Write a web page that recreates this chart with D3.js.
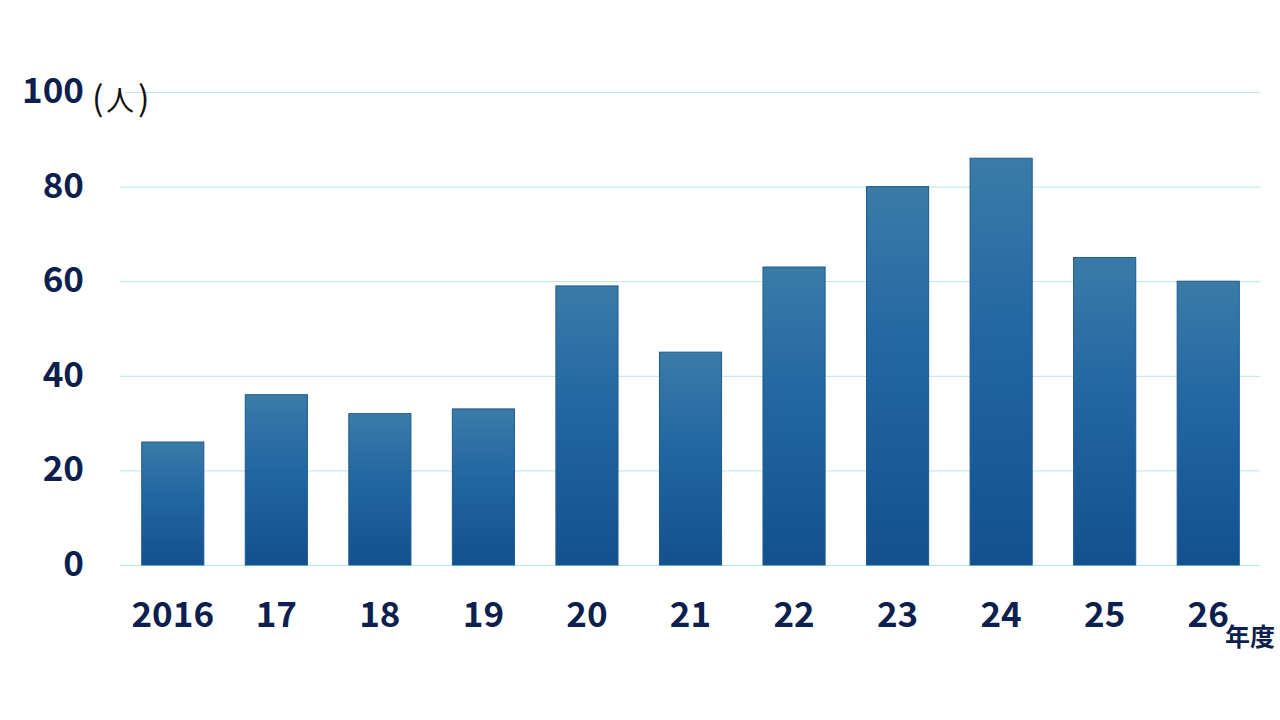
<!DOCTYPE html>
<html>
<head>
<meta charset="utf-8">
<script src="https://cdn.jsdelivr.net/npm/d3@7"></script>
<style>
  html, body { margin: 0; padding: 0; background: #fff; }
</style>
</head>
<body>
<div id="chart"></div>
<script>
const years = ["2016", "17", "18", "19", "20", "21", "22", "23", "24", "25", "26"];
const people = [26, 36, 32, 33, 59, 45, 63, 80, 86, 65, 60];
const yTicks = [0, 20, 40, 60, 80, 100];

const width = 1280;
const height = 720;
const margin = { top: 92, right: 20, bottom: 155, left: 121 };

const x = d3.scaleBand()
  .domain(years)
  .range([margin.left, width - margin.right])
  .paddingInner(0.4)
  .paddingOuter(0.2);

const y = d3.scaleLinear()
  .domain([0, 100])
  .range([height - margin.bottom, margin.top]);

const svg = d3.select("#chart")
  .append("svg")
    .attr("width", width)
    .attr("height", height)
    .attr("viewBox", [0, 0, width, height])
    .style("font-family", "'Noto Sans CJK JP', 'Noto Sans', sans-serif");

const defs = svg.append("defs");
const grad = defs.append("linearGradient")
  .attr("id", "barGrad")
  .attr("x1", 0).attr("y1", 0)
  .attr("x2", 0).attr("y2", 1);
grad.append("stop").attr("offset", "0%").attr("stop-color", "#3a7ba7");
grad.append("stop").attr("offset", "45%").attr("stop-color", "#2166a3");
grad.append("stop").attr("offset", "100%").attr("stop-color", "#13508f");

// grid lines
svg.append("g")
  .selectAll("line")
  .data(yTicks)
  .join("line")
    .attr("x1", d => d === 100 ? 125 : 120)
    .attr("x2", width - margin.right)
    .attr("y1", d => y(d) + 0.5)
    .attr("y2", d => y(d) + 0.5)
    .attr("stroke", "#b8e5f0")
    .attr("stroke-width", 1);

// bars
svg.append("g")
  .selectAll("rect")
  .data(people)
  .join("rect")
    .attr("x", (d, i) => x(years[i]))
    .attr("y", d => y(d))
    .attr("width", x.bandwidth())
    .attr("height", d => y(0) - y(d))
    .attr("fill", "url(#barGrad)")
    .attr("stroke", "#1d5a8e")
    .attr("stroke-width", 1);

// y tick labels
svg.append("g")
  .selectAll("text")
  .data(yTicks)
  .join("text")
    .attr("x", 84)
    .attr("y", d => y(d) + 11)
    .attr("text-anchor", "end")
    .attr("fill", "#0c1f4e")
    .attr("font-weight", "bold")
    .attr("font-size", 35)
    .text(d => d);

// x tick labels
svg.append("g")
  .selectAll("text")
  .data(years)
  .join("text")
    .attr("x", d => x(d) + x.bandwidth() / 2)
    .attr("y", 627)
    .attr("text-anchor", "middle")
    .attr("fill", "#0c1f4e")
    .attr("font-weight", "bold")
    .attr("font-size", 35)
    .text(d => d);

// units
const unit = svg.append("text")
  .attr("y", 111)
  .attr("fill", "#111")
  .attr("font-size", 28);
unit.append("tspan").attr("x", 92).attr("font-size", 34).text("(");
unit.append("tspan").attr("x", 106).text("人");
unit.append("tspan").attr("x", 138).attr("font-size", 34).text(")");

svg.append("text")
  .attr("x", 1250)
  .attr("y", 646)
  .attr("text-anchor", "middle")
  .attr("fill", "#0c1f4e")
  .attr("font-weight", "bold")
  .attr("font-size", 25)
  .text("年度");
</script>
</body>
</html>
